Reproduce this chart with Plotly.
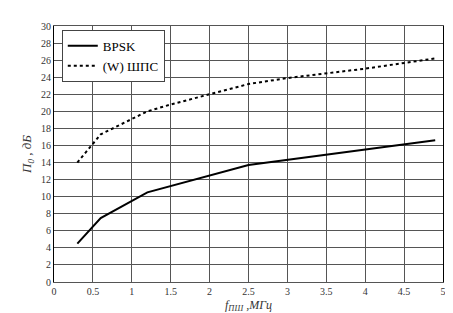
import plotly.graph_objects as go

x_bpsk = [0.3, 0.6, 1.2, 2.5, 4.9]
y_bpsk = [4.5, 7.5, 10.5, 13.7, 16.6]

x_shps = [0.3, 0.6, 1.0, 1.2, 1.5, 2.0, 2.5, 3.0, 4.0, 4.9]
y_shps = [14.0, 17.3, 19.1, 20.0, 20.8, 22.0, 23.2, 23.9, 25.0, 26.2]

x_ticks = [0, 0.5, 1, 1.5, 2, 2.5, 3, 3.5, 4, 4.5, 5]
x_tick_labels = ["0", "0.5", "1", "1.5", "2", "2.5", "3", "3.5", "4", "4.5", "5"]
y_ticks = list(range(0, 31, 2))

font_family = "'Liberation Serif', 'DejaVu Serif', serif"

fig = go.Figure()
fig.add_trace(go.Scatter(x=x_bpsk, y=y_bpsk, mode="lines", name="BPSK",
                         line=dict(color="black", width=2)))
fig.add_trace(go.Scatter(x=x_shps, y=y_shps, mode="lines", name="(W) ШПС",
                         line=dict(color="black", width=2, dash="3px,3px")))

fig.update_layout(
    width=453, height=313,
    margin=dict(l=46, r=18, t=17, b=35),
    paper_bgcolor="white", plot_bgcolor="white",
    font=dict(family=font_family, size=10, color="#333"),
    showlegend=True,
    legend=dict(x=0.02, y=0.985, xanchor="left", yanchor="top",
                bgcolor="white", bordercolor="#444", borderwidth=1,
                font=dict(family=font_family, size=13, color="black"),
                tracegroupgap=0, itemwidth=30),
    xaxis=dict(range=[0, 5], tickvals=x_ticks, ticktext=x_tick_labels,
               showgrid=True, gridcolor="#555", gridwidth=1.3,
               showline=True, linecolor="#555", linewidth=1, mirror=True,
               zeroline=False, ticks="", ticklen=0,
               title=dict(text="<i>f<sub>ПШ</sub> ,МГц</i>", standoff=4,
                          font=dict(family=font_family, size=12, color="#333"))),
    yaxis=dict(range=[0, 30], tickvals=y_ticks,
               showgrid=True, gridcolor="#555", gridwidth=1.3,
               showline=True, linecolor="black", linewidth=1, mirror=True,
               zeroline=False, ticks="", ticklen=0,
               title=dict(text="<i>П<sub>0</sub> , дБ</i>", standoff=6,
                          font=dict(family=font_family, size=13, color="#333"))),
)

fig.write_html("out.html")
